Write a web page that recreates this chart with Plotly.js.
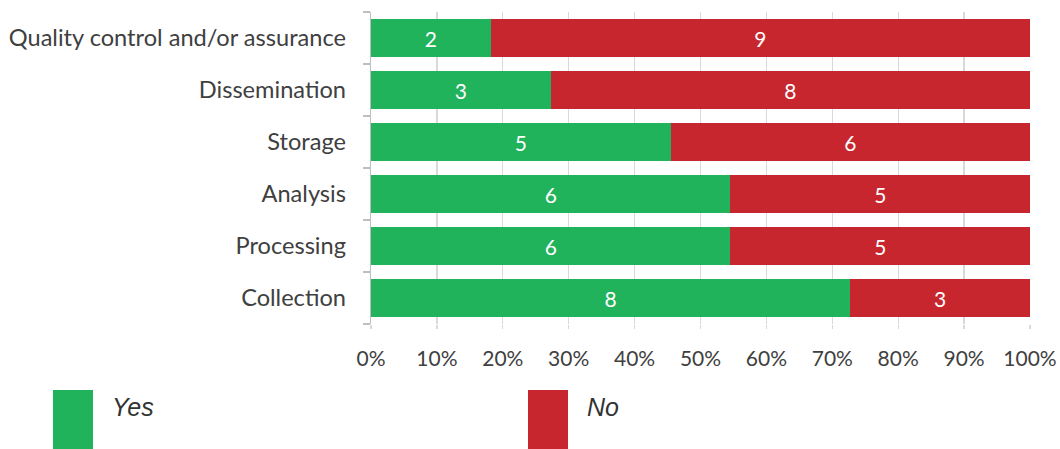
<!DOCTYPE html>
<html><head><meta charset="utf-8">
<script src="https://cdn.plot.ly/plotly-3.0.1.min.js"></script>
<style>html,body{margin:0;padding:0;background:#fff}#chart{width:1060px;height:449px}</style>
</head><body><div id="chart"></div>
<script>
const categories = ["Collection","Processing","Analysis","Storage","Dissemination","Quality control and/or assurance"];
const yesCounts = [8,6,6,5,3,2];
const noCounts = [3,5,5,6,8,9];
const seriesNames = ["Yes","No"];
const tickVals = [0,10,20,30,40,50,60,70,80,90,100];
const tickText = ["0%","10%","20%","30%","40%","50%","60%","70%","80%","90%","100%"];

const totals = yesCounts.map((v,i)=>v+noCounts[i]);
const yesPct = yesCounts.map((v,i)=>100*v/totals[i]);
const noPct = noCounts.map((v,i)=>100*v/totals[i]);
const GREEN = "#21B25C", RED = "#C8262E";
const labelFont = {family:"Lato, 'Noto Sans', sans-serif", size:21, color:"#ffffff"};

const traces = [
  {type:"bar", orientation:"h", name:seriesNames[0], y:categories, x:yesPct,
   text:yesCounts.map(String), textposition:"inside", insidetextanchor:"middle",
   textfont:labelFont, marker:{color:GREEN}, hoverinfo:"none"},
  {type:"bar", orientation:"h", name:seriesNames[1], y:categories, x:noPct,
   text:noCounts.map(String), textposition:"inside", insidetextanchor:"middle",
   textfont:labelFont, marker:{color:RED}, hoverinfo:"none"}
];

const xFont = {family:"Lato, 'Noto Sans', sans-serif", size:21, color:"#404040"};
const yFont = {family:"Lato, 'Noto Sans', sans-serif", size:23.6, color:"#404040"};
const layout = {
  width:1060, height:449,
  margin:{l:371, r:30, t:12, b:125},
  barmode:"stack", bargap:0.27,
  showlegend:false,
  paper_bgcolor:"#fff", plot_bgcolor:"#fff",
  xaxis:{range:[0,100], tickvals:tickVals, ticktext:tickText, showgrid:true, gridcolor:"#D9D9D9", gridwidth:1.3,
         zeroline:false, showline:false, ticks:"outside", ticklen:4, tickcolor:"#D9D9D9", tickwidth:1.3,
         tickfont:xFont, ticklabelstandoff:12, fixedrange:true},
  yaxis:{type:"category", showline:true, linecolor:"#BFBFBF", linewidth:1.3, ticks:"outside", tickson:"boundaries",
         ticklen:7, tickcolor:"#BFBFBF", tickwidth:1.3, tickfont:yFont, showgrid:false, ticklabelstandoff:19, fixedrange:true},
  shapes:[
    {type:"rect", xref:"paper", yref:"paper", x0:-318/659, x1:-278/659, y0:-66/312, y1:-125/312, fillcolor:GREEN, line:{width:0}},
    {type:"rect", xref:"paper", yref:"paper", x0:157/659, x1:197/659, y0:-66/312, y1:-125/312, fillcolor:RED, line:{width:0}}
  ],
  annotations:[
    {xref:"paper", yref:"paper", x:-261/659, y:-83/312, xanchor:"left", yanchor:"middle", showarrow:false,
     text:"<i>"+seriesNames[0]+"</i>", font:{family:"'Liberation Sans', Arial, sans-serif", size:25, color:"#333333"}},
    {xref:"paper", yref:"paper", x:214/659, y:-83/312, xanchor:"left", yanchor:"middle", showarrow:false,
     text:"<i>"+seriesNames[1]+"</i>", font:{family:"'Liberation Sans', Arial, sans-serif", size:25, color:"#333333"}}
  ]
};
Plotly.newPlot("chart", traces, layout, {displayModeBar:false, staticPlot:true});
</script></body></html>
